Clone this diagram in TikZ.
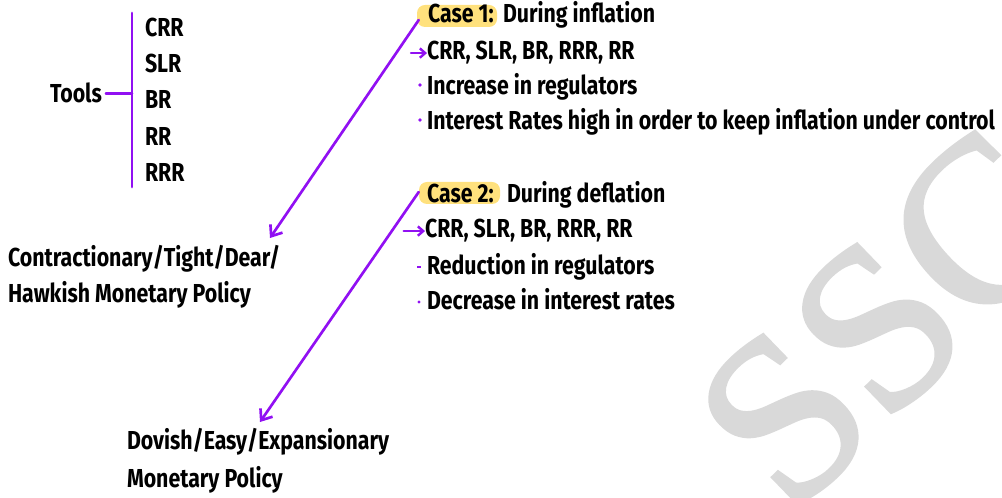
\documentclass[tikz,border=0pt]{standalone}
\usepackage{fontspec}
\setmainfont{Fira Sans}[FakeStretch=0.82]
\newfontfamily\wmfont{Liberation Serif}[FakeBold=1.5]
\usetikzlibrary{arrows.meta}
\definecolor{pur}{RGB}{145,16,242}
\definecolor{hl}{RGB}{255,225,125}
\definecolor{wm}{RGB}{217,217,217}
\begin{document}
\begin{tikzpicture}[x=0.75pt,y=-0.75pt,
 txt/.style={anchor=base west, inner sep=0pt, outer sep=0pt, font=\fontsize{19.5}{22}\selectfont\bfseries},
 pline/.style={draw=pur, line width=2pt, line cap=round},
 parrow/.style={pline, -{Straight Barb[length=7pt,width=11pt,line width=2pt]}},
 sarrow/.style={draw=pur, line width=1.8pt, line cap=round, -{Straight Barb[length=4pt,width=7pt]}},
 hlbox/.style={fill=hl, rounded corners=6pt, inner sep=0pt},
]
\useasboundingbox (0,0) rectangle (1002,498);
\begin{scope}
\clip (0,0) rectangle (1002,498);
\node[rotate=44, text=wm, font=\wmfont\fontsize{176}{176}\selectfont, inner sep=0pt] (wmark) at (887,318) {SSC};
\end{scope}
% Tools
\node[txt] (tools) at (50,103) {Tools};
\coordinate (bartop) at (132,13);
\coordinate (barbot) at (132,187);
\draw[pline, line width=2.2pt] (bartop) -- (barbot);
\draw[pline] ([xshift=3pt]tools.east) -- (tools.east -| bartop);
\node[txt] (crr) at (145,37) {CRR};
\node[txt] (slr) at (145,73) {SLR};
\node[txt] (br) at (145,109) {BR};
\node[txt] (rr) at (145,146) {RR};
\node[txt] (rrr) at (145,182) {RRR};
% Case 1
\node[hlbox, minimum width=60pt, minimum height=16.5pt] (c1) at (457,16) {};
\node[txt] (c1t) at (428,23) {Case 1:};
\node[txt] (c1d) at (503,23) {During inflation};
\coordinate (tip1) at (270,238);
\draw[parrow] ([shift={(2,4)}]c1.west) -- (tip1);
\node[txt] (l1) at (427,60) {CRR, SLR, BR, RRR, RR};
\draw[sarrow] ([xshift=-12pt]l1.west) -- (l1.west);
\node[txt] (l2) at (427,95) {Increase in regulators};
\fill[pur] (420,85) circle (1.4pt);
\node[txt] (l3) at (427,130) {Interest Rates high in order to keep inflation under control};
\fill[pur] (420,120) circle (1.4pt);
% Case 2
\node[hlbox, minimum width=60.75pt, minimum height=16.5pt] (c2) at (459.5,193) {};
\node[txt] (c2t) at (427,203) {Case 2:};
\node[txt] (c2d) at (507,203) {During deflation};
\coordinate (tip2) at (260,422);
\draw[parrow] ([shift={(0,-1)}]c2.west) -- (tip2);
\node[txt] (m1) at (425,238) {CRR, SLR, BR, RRR, RR};
\draw[sarrow] ([xshift=-16pt]m1.west) -- (m1.west);
\node[txt] (m2) at (427,275) {Reduction in regulators};
\draw[pur, line width=1.4pt] (417,267) -- (421,267);
\node[txt] (m3) at (427,310) {Decrease in interest rates};
\fill[pur] (419,302) circle (1.3pt);
% Policies
\node[txt] (ct1) at (8,267) {Contractionary/Tight/Dear/};
\node[txt] (ct2) at (8,303) {Hawkish Monetary Policy};
\node[txt] (dv1) at (127,450) {Dovish/Easy/Expansionary};
\node[txt] (dv2) at (127,487) {Monetary Policy};
\end{tikzpicture}
\end{document}
